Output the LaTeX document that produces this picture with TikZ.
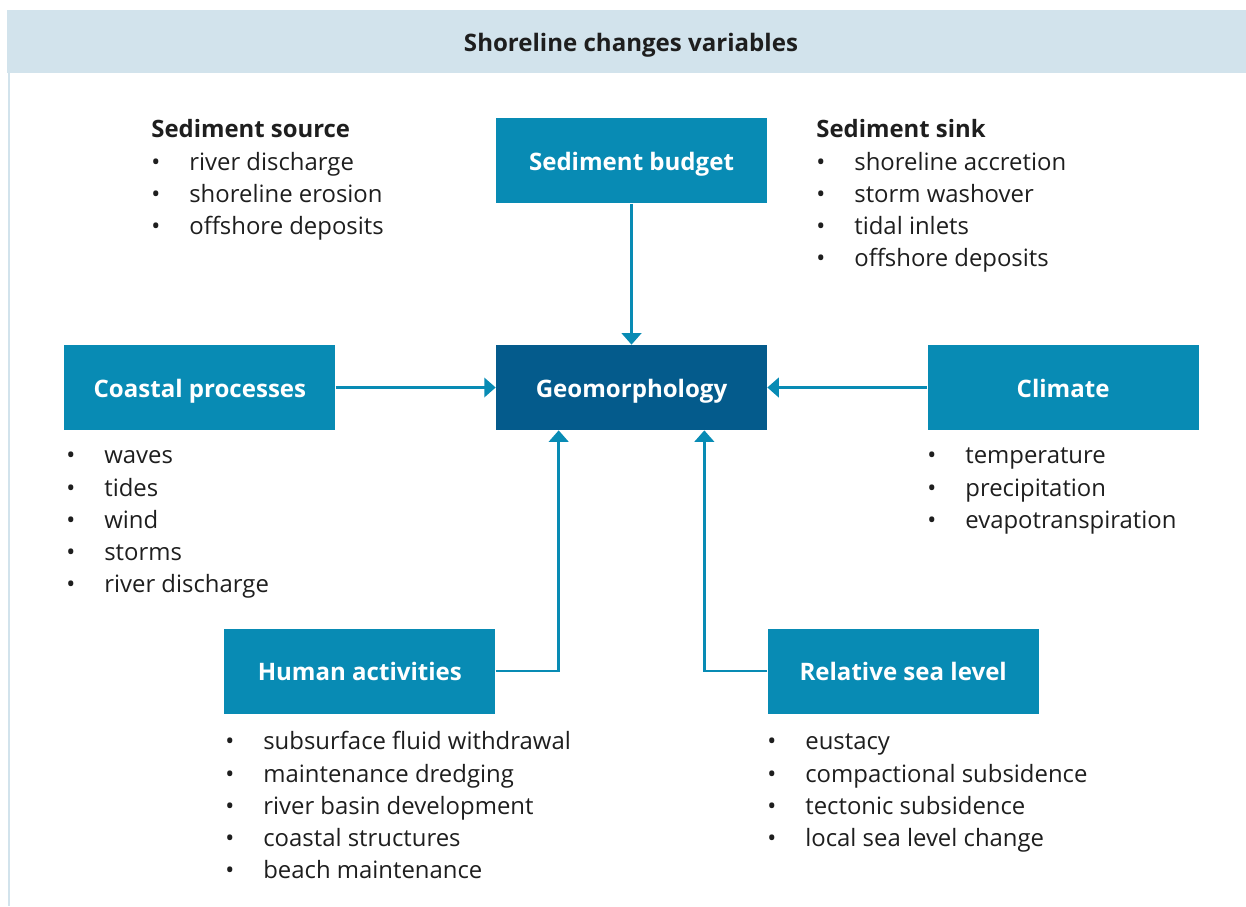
\documentclass[tikz,border=0pt]{standalone}
\usepackage{fontspec}
\setmainfont{Open Sans}
\usetikzlibrary{arrows.meta,positioning}
\definecolor{HeadBand}{HTML}{D2E3EC}
\definecolor{BoxBlue}{HTML}{088BB4}
\definecolor{DeepBlue}{HTML}{045B8C}
\definecolor{Ink}{HTML}{1E1E1E}
\newcommand{\bitem}[1]{\makebox[0.76cm][l]{\textbullet}#1}
\tikzset{
  varbox/.style={fill=#1, text=white, font=\fontsize{13.7}{16}\selectfont\bfseries,
    minimum width=5.42cm, minimum height=1.7cm, inner sep=0pt,
    text height=11pt, text depth=0pt},
  varbox/.default={BoxBlue},
  listtext/.style={anchor=north west, align=left, inner sep=0pt, text=Ink,
    font=\fontsize{13.6}{18.3}\selectfont},
  flowarr/.style={-{Triangle[length=6.5pt,width=11pt]}, line width=1.5pt, color=BoxBlue},
}

\begin{document}
\begin{tikzpicture}[x=0.02cm, y=-0.02cm]
  \useasboundingbox (0,0) rectangle (1246,906);
  \fill[HeadBand] (7,10) rectangle (1246,73);
  \draw[HeadBand, line width=1.7pt] (9,73) -- (9,906);
  \node[font=\fontsize{13.7}{16}\selectfont\bfseries, text=Ink] (title) at (631,45)
    {Shoreline changes variables};

  \node[varbox=DeepBlue] (geo) at (631.5,387.5) {Geomorphology};
  \node[varbox, above=2.82cm of geo] (budget) {Sediment budget};
  \node[varbox, left=3.2cm of geo] (coastal) {Coastal processes};
  \node[varbox, right=3.2cm of geo] (climate) {Climate};
  \node[varbox, below left=3.96cm and 0cm of geo.south west] (human) {Human activities};
  \node[varbox, below right=3.96cm and 0cm of geo.south east] (rsl) {Relative sea level};

  \draw[flowarr] (budget) -- (geo);
  \draw[flowarr] (coastal) -- (geo);
  \draw[flowarr] (climate) -- (geo);
  \draw[flowarr] (human.east) -| ([xshift=1.26cm]geo.south west);
  \draw[flowarr] (rsl.west) -| ([xshift=-1.26cm]geo.south east);

  % bullet lists
  \node[listtext] (source) at (151,115) {\strut\textbf{Sediment source}\\
    \bitem{river discharge}\\ \bitem{shoreline erosion}\\ \bitem{offshore deposits}};
  \node[listtext] (sink) at (816,115) {\strut\textbf{Sediment sink}\\
    \bitem{shoreline accretion}\\ \bitem{storm washover}\\ \bitem{tidal inlets}\\
    \bitem{offshore deposits}};
  \node[listtext] (coastlist) at (66,441) {\strut\bitem{waves}\\ \bitem{tides}\\
    \bitem{wind}\\ \bitem{storms}\\ \bitem{river discharge}};
  \node[listtext] (climlist) at (927,441) {\strut\bitem{temperature}\\
    \bitem{precipitation}\\ \bitem{evapotranspiration}};
  \node[listtext] (humanlist) at (225,727) {\strut\bitem{subsurface fluid withdrawal}\\
    \bitem{maintenance dredging}\\ \bitem{river basin development}\\
    \bitem{coastal structures}\\ \bitem{beach maintenance}};
  \node[listtext] (rsllist) at (767,727) {\strut\bitem{eustacy}\\
    \bitem{compactional subsidence}\\ \bitem{tectonic subsidence}\\
    \bitem{local sea level change}};
\end{tikzpicture}
\end{document}
